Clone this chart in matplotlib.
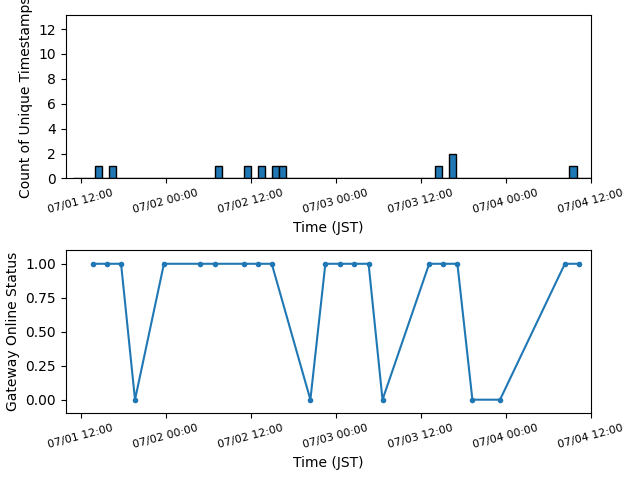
import pandas as pd
import matplotlib
matplotlib.use("Agg")
from matplotlib import pyplot as plt
import matplotlib.dates as mdates
from matplotlib.ticker import MultipleLocator

# hourly buckets that had at least one unique timestamp (JST)
count_hours = ["2024-07-01 14:00", "2024-07-01 16:00",
               "2024-07-02 07:00", "2024-07-02 11:00", "2024-07-02 13:00",
               "2024-07-02 15:00", "2024-07-02 16:00",
               "2024-07-03 14:00", "2024-07-03 16:00",
               "2024-07-04 09:00"]
count_values = [1, 1, 1, 1, 1, 1, 1, 1, 2, 1]

# gateway status samples (1 = online, 0 = offline)
status_times = ["2024-07-01 13:44", "2024-07-01 15:45", "2024-07-01 17:43",
                "2024-07-01 19:41", "2024-07-01 23:46", "2024-07-02 04:51",
                "2024-07-02 06:58", "2024-07-02 11:02", "2024-07-02 13:00",
                "2024-07-02 14:59", "2024-07-02 20:26", "2024-07-02 22:33",
                "2024-07-03 00:34", "2024-07-03 02:32", "2024-07-03 04:39",
                "2024-07-03 06:37", "2024-07-03 13:12", "2024-07-03 15:13",
                "2024-07-03 17:11", "2024-07-03 19:18", "2024-07-03 23:12",
                "2024-07-04 08:21", "2024-07-04 10:22"]
status_values = [1, 1, 1, 0, 1, 1, 1, 1, 1, 1, 0, 1, 1, 1, 1, 0, 1, 1, 1, 0, 0, 1, 1]

# full hourly series, empty hours count as zero
all_hours = pd.date_range("2024-07-01 11:00", "2024-07-04 11:00", freq="h")
counts = pd.Series(count_values, index=pd.to_datetime(count_hours)).reindex(all_hours, fill_value=0)
status = pd.Series(status_values, index=pd.to_datetime(status_times))

fig, (ax1, ax2) = plt.subplots(2, 1, figsize=(6.4, 4.8))

ax1.bar(counts.index, counts.values, width=1/24, align='edge', edgecolor='black')
ax1.set_ylim(0, 13.1)
ax1.yaxis.set_major_locator(MultipleLocator(2))
ax1.set_ylabel('Count of Unique Timestamps')
ax1.set_xlabel('Time (JST)')

ax2.plot(status.index, status.values, marker='o', markersize=3)
ax2.set_ylim(-0.1, 1.1)
ax2.set_ylabel('Gateway Online Status')
ax2.set_xlabel('Time (JST)')

for ax in (ax1, ax2):
    ax.set_xlim(pd.Timestamp("2024-07-01 09:56"), pd.Timestamp("2024-07-04 12:00"))
    ax.xaxis.set_major_locator(mdates.HourLocator(byhour=[0, 12]))
    ax.xaxis.set_major_formatter(mdates.DateFormatter('%m/%d %H:%M'))
    plt.setp(ax.get_xticklabels(), rotation=15, fontsize=8)

plt.subplots_adjust(left=0.103, right=0.923, top=0.968, bottom=0.139, hspace=0.44)
plt.savefig('out.png')
